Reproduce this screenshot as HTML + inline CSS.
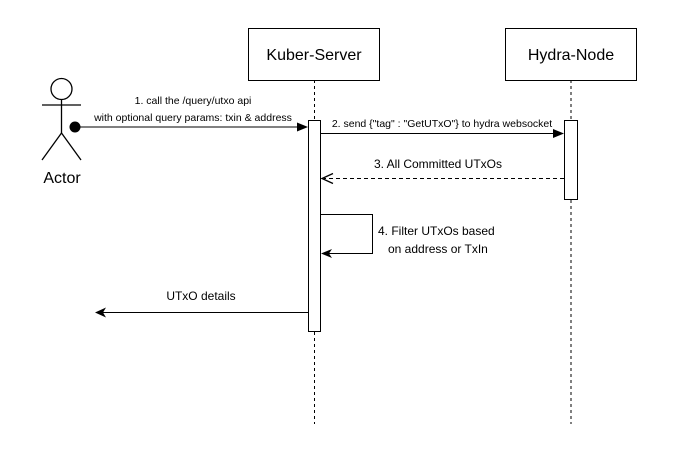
<!DOCTYPE html>
<html><head><meta charset="utf-8"><style>
html,body{margin:0;padding:0;background:#fff;}
svg{display:block;font-family:"Liberation Sans",Arial,sans-serif;}
</style></head><body>
<svg width="679" height="452" viewBox="0 0 679 452" xmlns="http://www.w3.org/2000/svg">
<rect width="679" height="452" fill="#fff"/>
<line x1="314.5" y1="80" x2="314.5" y2="424" stroke="#000" stroke-dasharray="3,3"/>
<line x1="571" y1="80" x2="571" y2="424" stroke="#000" stroke-dasharray="3,3"/>
<rect x="248.5" y="28.5" width="131" height="52" fill="#fff" stroke="#000"/>
<text x="314" y="60" font-size="16" text-anchor="middle">Kuber-Server</text>
<rect x="505.5" y="28.5" width="131" height="52" fill="#fff" stroke="#000"/>
<text x="571" y="60" font-size="16" text-anchor="middle">Hydra-Node</text>
<g stroke="#000" stroke-width="1.3" fill="none">
<circle cx="61.5" cy="89" r="10.5" fill="#fff"/>
<line x1="61.5" y1="100" x2="61.5" y2="133"/>
<line x1="42" y1="105" x2="81" y2="105"/>
<line x1="61.5" y1="133" x2="42" y2="160"/>
<line x1="61.5" y1="133" x2="81" y2="160"/>
</g>
<text x="62" y="183" font-size="16" text-anchor="middle">Actor</text>
<rect x="308.5" y="120.5" width="12" height="211" fill="#fff" stroke="#000"/>
<rect x="564.5" y="120.5" width="13" height="79" fill="#fff" stroke="#000"/>
<circle cx="75" cy="127" r="5.5" fill="#000"/>
<line x1="75" y1="127" x2="298" y2="127" stroke="#000"/>
<polygon points="308,127 297,122.5 297,131.5" fill="#000"/>
<text x="193" y="104" font-size="10.5" text-anchor="middle">1. call the /query/utxo api</text>
<text x="193" y="121" font-size="10.5" text-anchor="middle">with optional query params: txin &amp; address</text>
<line x1="321" y1="133.5" x2="554" y2="133.5" stroke="#000"/>
<polygon points="564,133.5 553,129 553,138" fill="#000"/>
<text x="442" y="127" font-size="10.5" text-anchor="middle">2. send {"tag" : "GetUTxO"} to hydra websocket</text>
<line x1="564" y1="178.5" x2="324" y2="178.5" stroke="#000" stroke-dasharray="4,3"/>
<polyline points="333,173.5 322,178.5 333,183.5" fill="none" stroke="#000" stroke-width="1.3"/>
<text x="438" y="168" font-size="12" text-anchor="middle">3. All Committed UTxOs</text>
<polyline points="321,214.5 372.5,214.5 372.5,253.5 324,253.5" fill="none" stroke="#000"/>
<polygon points="321,253.5 332,249 329,253.5 332,258" fill="#000"/>
<text x="378" y="235" font-size="12">4. Filter UTxOs based</text>
<text x="388" y="253" font-size="12">on address or TxIn</text>
<line x1="308" y1="312.5" x2="98" y2="312.5" stroke="#000"/>
<polygon points="95,312.5 106,307.5 103,312.5 106,317.5" fill="#000"/>
<text x="201" y="300" font-size="12" text-anchor="middle">UTxO details</text>
</svg>
</body></html>
